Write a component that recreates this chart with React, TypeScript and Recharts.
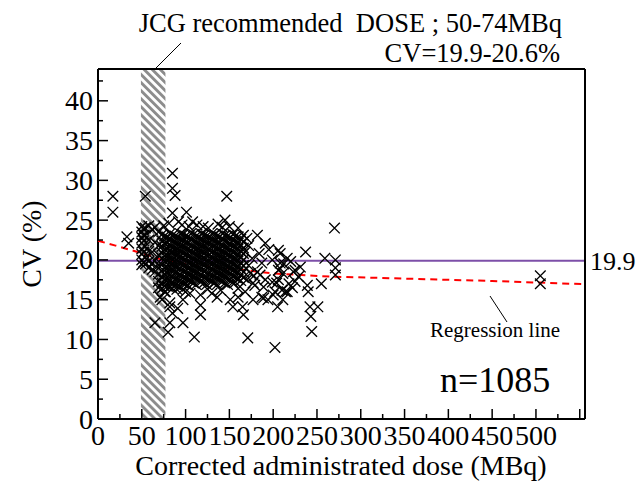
import {
  ReferenceArea,
  ReferenceLine,
  Scatter,
  ScatterChart,
  XAxis,
  YAxis,
} from 'recharts'

// CV (%) vs corrected administrated dose (MBq), n = 1085.
// Values are read off the reference figure; the dense core is
// represented by columns of overlapping markers.

const CHART_W = 636
const CHART_H = 478
const FONT = 'Liberation Serif, Times New Roman, Times, serif'

const X_MAX = 556
const Y_MAX = 44
const X_TICKS = [
  0, 25, 50, 75, 100, 125, 150, 175, 200, 225, 250, 275, 300, 325, 350, 375,
  400, 425, 450, 475, 500, 525, 550,
]
const Y_TICKS = [
  0, 2.5, 5, 7.5, 10, 12.5, 15, 17.5, 20, 22.5, 25, 27.5, 30, 32.5, 35, 37.5,
  40, 42.5,
]
const X_LABEL_MAX = 500

// JCG recommended dose band (drawn extent) and the mean CV line
const JCG_BAND = [49, 77]
const MEAN_CV = 19.9

// [dose, CV values at that dose]
const lowDoseGroups: Array<[number, number[]]> = [
  [17, [28.0, 26.0]],
  [33, [22.9]],
  [35, [22.1]],
  [50, [24.2, 23.5, 22.8, 22.1, 21.4, 20.7, 20.0, 19.4]],
  [52, [23.9, 23.1, 22.4, 21.0, 19.7]],
  [54, [28.0, 24.0, 23.1, 21.7, 20.3, 19.5]],
  [58, [24.3, 22.5, 21.1, 19.8, 19.0]],
  [62, [23.8, 21.0, 19.6, 18.8]],
  [65, [24.1, 22.2, 19.9, 18.5, 12.1]],
  [69, [23.5, 21.8, 20.6, 19.3, 18.2, 17.3, 16.5]],
]

const coreGroups: Array<[number, number[]]> = [
  [73, [23.2, 22.4, 21.7, 20.9, 20.2, 19.4, 18.6, 17.9, 17.1, 16.4]],
  [76, [23.0, 22.1, 21.3, 20.5, 19.8, 19.0, 18.2, 17.5, 16.7, 16.0]],
  [79, [22.8, 22.1, 21.3, 20.5, 19.8, 19.0, 18.3, 17.5, 16.7]],
  [82, [23.3, 22.6, 21.8, 21.1, 20.3, 19.6, 18.8, 18.1, 17.3, 16.6]],
  [85, [23.1, 22.4, 21.6, 20.9, 20.1, 19.4, 18.7, 17.9, 17.1, 16.4]],
  [88, [23.0, 22.2, 21.4, 20.7, 19.9, 19.2, 18.4, 17.6, 16.9]],
  [91, [22.8, 22.0, 21.3, 20.6, 19.8, 19.1, 18.3, 17.5, 16.7]],
  [94, [23.3, 22.6, 21.8, 21.1, 20.4, 19.6, 18.9, 18.1, 17.4, 16.6]],
  [97, [23.2, 22.5, 21.7, 20.9, 20.2, 19.4, 18.6, 17.8, 17.1, 16.3]],
  [100, [23.0, 22.2, 21.5, 20.7, 20.0, 19.2, 18.5, 17.7, 17.0]],
  [103, [22.9, 22.1, 21.3, 20.5, 19.7, 19.0, 18.2, 17.5, 16.8]],
  [106, [23.3, 22.6, 21.8, 21.1, 20.3, 19.6, 18.8, 18.1, 17.3]],
  [109, [23.2, 22.4, 21.6, 20.9, 20.1, 19.4, 18.6, 17.9, 17.1]],
  [112, [23.0, 22.2, 21.4, 20.7, 19.9, 19.2, 18.4, 17.7, 16.9]],
  [115, [22.8, 22.0, 21.3, 20.5, 19.8, 19.0, 18.3, 17.5]],
  [118, [23.3, 22.6, 21.8, 21.1, 20.4, 19.6, 18.9, 18.1, 17.3]],
  [121, [23.1, 22.4, 21.7, 20.9, 20.2, 19.4, 18.6, 17.8, 17.1]],
  [124, [23.0, 22.2, 21.5, 20.7, 19.9, 19.2, 18.4, 17.7, 16.9]],
  [127, [22.8, 22.1, 21.3, 20.6, 19.8, 19.1, 18.3, 17.5]],
  [130, [23.3, 22.6, 21.8, 21.0, 20.3, 19.5, 18.8, 18.0, 17.3]],
  [133, [23.2, 22.4, 21.7, 20.9, 20.1, 19.4, 18.6, 17.9, 17.1]],
  [136, [23.0, 22.2, 21.4, 20.7, 19.9, 19.2, 18.4, 17.7, 16.9]],
  [139, [22.9, 22.1, 21.3, 20.5, 19.8, 19.0, 18.2, 17.5]],
  [142, [23.3, 22.6, 21.8, 21.1, 20.3, 19.6, 18.8, 18.1, 17.3]],
  [145, [23.1, 22.4, 21.6, 20.9, 20.2, 19.4, 18.7, 17.9, 17.1]],
  [148, [23.0, 22.2, 21.5, 20.7, 20.0, 19.2, 18.5, 17.7, 16.9]],
  [151, [22.8, 22.0, 21.3, 20.5, 19.7, 19.0, 18.3, 17.5]],
  [154, [23.2, 22.5, 21.7, 21.0, 20.2, 19.5, 18.7, 18.0, 17.2]],
  [157, [23.0, 22.3, 21.6, 20.8, 20.1, 19.3, 18.6, 17.8, 17.2]],
  [160, [22.9, 22.1, 21.4, 20.6, 19.9, 19.1, 18.4, 17.6]],
  [163, [22.6, 21.9, 21.1, 20.4, 19.6, 18.9, 18.1, 17.4]],
  [166, [22.3, 21.5, 20.8, 20.0, 19.3, 18.5, 17.8]],
]

const fringeGroups: Array<[number, number[]]> = [
  [75, [24.3]], [81, [24.6]], [85, [30.9, 29.0, 25.9]], [88, [28.1]],
  [92, [24.8]], [96, [24.4]], [101, [26.0]], [104, [24.2]], [108, [24.8]],
  [113, [24.4]], [120, [24.2]], [126, [24.0]], [137, [24.5]], [142, [24.1]],
  [145, [25.0]], [147, [28.0]], [150, [24.2]], [160, [24.0]],
  [71, [15.3]], [73, [15.0]], [77, [16.0]], [80, [10.9]], [82, [14.6, 14.1, 12.1]],
  [85, [13.3]], [90, [16.3]], [91, [13.9]], [97, [15.0, 12.1]], [100, [16.0]],
  [105, [15.8]], [110, [10.3]], [117, [15.6, 14.3, 13.1]], [125, [16.3]],
  [130, [15.8]], [136, [15.3]], [140, [16.2]], [151, [15.0]], [154, [14.1]],
  [160, [16.4, 15.3]], [166, [13.1]],
]

const highDoseGroups: Array<[number, number[]]> = [
  [165, [14.1]], [166, [23.1]], [168, [21.0, 16.0]], [170, [22.7, 17.5]],
  [171, [10.2]], [172, [21.8, 19.3]], [174, [18.3]], [176, [20.2]],
  [177, [17.1, 15.0]], [178, [18.0]], [179, [16.8]], [182, [23.1, 18.5]],
  [184, [20.8]], [185, [18.1]], [187, [19.6, 15.3]], [189, [16.6, 15.2]],
  [191, [22.1, 17.5]], [194, [15.0]], [195, [21.3]], [199, [20.0, 17.2]],
  [200, [15.6]], [202, [16.0, 9.0]], [204, [17.1]], [205, [14.1]],
  [206, [21.2, 18.7, 17.5]], [208, [20.8, 19.6, 18.9]], [210, [16.2]],
  [211, [18.3, 15.0]], [212, [19.5]], [214, [16.0]], [216, [20.2, 16.0]],
  [218, [17.0]], [220, [19.8]], [222, [16.5]], [223, [18.5]], [225, [18.7, 17.3]],
  [229, [17.9]], [231, [19.1]], [237, [21.0]], [239, [16.8]], [240, [16.0]],
  [242, [14.1]], [243, [12.9]], [244, [11.0]], [251, [14.1]], [255, [17.0]],
  [259, [20.2]], [270, [24.0]], [271, [20.0, 19.0, 18.1]],
  [505, [18.0, 17.0]],
]

// fitted regression curve (red dashed)
const REG_DOSE = [0, 20, 45, 71, 100, 160, 200, 265, 350, 450, 556]
const REG_CV = [22.4, 21.8, 21.0, 20.1, 19.5, 18.8, 18.3, 17.9, 17.65, 17.35, 16.95]

const points = [...lowDoseGroups, ...coreGroups, ...fringeGroups, ...highDoseGroups].flatMap(
  ([dose, cvs]) => cvs.map((cv) => ({ dose, cv })),
)
const regression = REG_DOSE.map((dose, i) => ({ dose, cv: REG_CV[i] }))

const AXIS_LINE = { stroke: '#000', strokeWidth: 2 }

function XMark(props: any) {
  const { cx, cy } = props
  const s = 5.3
  return (
    <path
      d={`M${cx - s},${cy - s}L${cx + s},${cy + s}M${cx - s},${cy + s}L${cx + s},${cy - s}`}
      stroke="#000"
      strokeWidth={1.35}
      fill="none"
    />
  )
}

function BottomTick(props: any) {
  const { x, y, payload } = props
  const major = payload.value % 50 === 0
  return (
    <g>
      <line x1={x} x2={x} y1={y} y2={y - (major ? 10 : 5)} stroke="#000" strokeWidth={1.5} />
      {major && payload.value <= X_LABEL_MAX && (
        <text x={x} y={y + 26} textAnchor="middle" fontSize={28} fontFamily={FONT} fill="#000">
          {payload.value}
        </text>
      )}
    </g>
  )
}

function TopTick(props: any) {
  const { x, y, payload } = props
  const major = payload.value % 50 === 0
  return <line x1={x} x2={x} y1={y} y2={y + (major ? 10 : 5)} stroke="#000" strokeWidth={1.5} />
}

function LeftTick(props: any) {
  const { x, y, payload } = props
  const major = payload.value % 5 === 0
  return (
    <g>
      <line x1={x} x2={x + (major ? 10 : 5)} y1={y} y2={y} stroke="#000" strokeWidth={1.5} />
      {major && (
        <text x={x - 5} y={y + 9.5} textAnchor="end" fontSize={28} fontFamily={FONT} fill="#000">
          {payload.value}
        </text>
      )}
    </g>
  )
}

function RightTick(props: any) {
  const { x, y, payload } = props
  const major = payload.value % 5 === 0
  return <line x1={x} x2={x - (major ? 10 : 5)} y1={y} y2={y} stroke="#000" strokeWidth={1.5} />
}

export default function App() {
  return (
    <div style={{ position: 'relative', width: CHART_W, height: CHART_H, fontFamily: FONT }}>
      <svg width={0} height={0} style={{ position: 'absolute' }}>
        <defs>
          <pattern
            id="jcgHatch"
            patternUnits="userSpaceOnUse"
            width={5.7}
            height={5.7}
            patternTransform="rotate(-45)"
          >
            <rect x={0} y={0} width={5.7} height={5.7} fill="#fff" />
            <rect x={0} y={0} width={2.9} height={5.7} fill="#8c8c8c" />
          </pattern>
        </defs>
      </svg>
      <ScatterChart
        width={CHART_W}
        height={CHART_H}
        margin={{ top: 60, right: 58, bottom: 66, left: 89 }}
      >
        <XAxis
          type="number"
          dataKey="dose"
          domain={[0, X_MAX]}
          ticks={X_TICKS}
          interval={0}
          height={1}
          tickSize={0}
          tickMargin={0}
          tickLine={false}
          axisLine={AXIS_LINE}
          tick={(p: any) => <BottomTick {...p} />}
        />
        <XAxis
          xAxisId="top"
          orientation="top"
          type="number"
          dataKey="dose"
          domain={[0, X_MAX]}
          ticks={X_TICKS}
          interval={0}
          height={1}
          tickSize={0}
          tickMargin={0}
          tickLine={false}
          axisLine={AXIS_LINE}
          tick={(p: any) => <TopTick {...p} />}
        />
        <YAxis
          type="number"
          dataKey="cv"
          domain={[0, Y_MAX]}
          ticks={Y_TICKS}
          interval={0}
          width={1}
          tickSize={0}
          tickMargin={0}
          tickLine={false}
          axisLine={AXIS_LINE}
          tick={(p: any) => <LeftTick {...p} />}
        />
        <YAxis
          yAxisId="right"
          orientation="right"
          type="number"
          dataKey="cv"
          domain={[0, Y_MAX]}
          ticks={Y_TICKS}
          interval={0}
          width={1}
          tickSize={0}
          tickMargin={0}
          tickLine={false}
          axisLine={AXIS_LINE}
          tick={(p: any) => <RightTick {...p} />}
        />
        <ReferenceArea
          x1={JCG_BAND[0]}
          x2={JCG_BAND[1]}
          y1={0}
          y2={Y_MAX}
          fill="url(#jcgHatch)"
          fillOpacity={1}
          stroke="none"
        />
        <Scatter
          data={regression}
          line={{ stroke: '#ff0000', strokeWidth: 2, strokeDasharray: '7 5' }}
          lineType="joint"
          shape={() => <g />}
          isAnimationActive={false}
        />
        <Scatter data={points} shape={(p: any) => <XMark {...p} />} isAnimationActive={false} />
        <ReferenceLine
          y={MEAN_CV}
          stroke="#7d4fa8"
          strokeWidth={2}
          label={{ value: '19.9', position: 'right', fill: '#000', fontSize: 26, fontFamily: FONT }}
        />
      </ScatterChart>
      <svg
        width={CHART_W}
        height={CHART_H}
        style={{ position: 'absolute', left: 0, top: 0, pointerEvents: 'none' }}
        fontFamily={FONT}
        fill="#000"
      >
        <text x={554} y={24} textAnchor="end" fontSize={26.5} style={{ whiteSpace: 'pre' }}>
          JCG recommended  DOSE ; 50-74MBq
        </text>
        <text x={552} y={54} textAnchor="end" fontSize={26.5}>
          CV=19.9-20.6%
        </text>
        <line x1={173} y1={35} x2={147} y2={61} stroke="#000" strokeWidth={1} />
        <text x={422} y={329} fontSize={21}>
          Regression line
        </text>
        <line x1={482} y1={288} x2={499} y2={314} stroke="#000" strokeWidth={1} />
        <text x={432} y={384} fontSize={36}>
          n=1085
        </text>
        <text
          x={23}
          y={236}
          fontSize={28}
          textAnchor="middle"
          dominantBaseline="central"
          transform="rotate(-90 23 236)"
        >
          CV (%)
        </text>
        <text x={333} y={467} fontSize={28} textAnchor="middle">
          Corrected administrated dose (MBq)
        </text>
      </svg>
    </div>
  )
}
